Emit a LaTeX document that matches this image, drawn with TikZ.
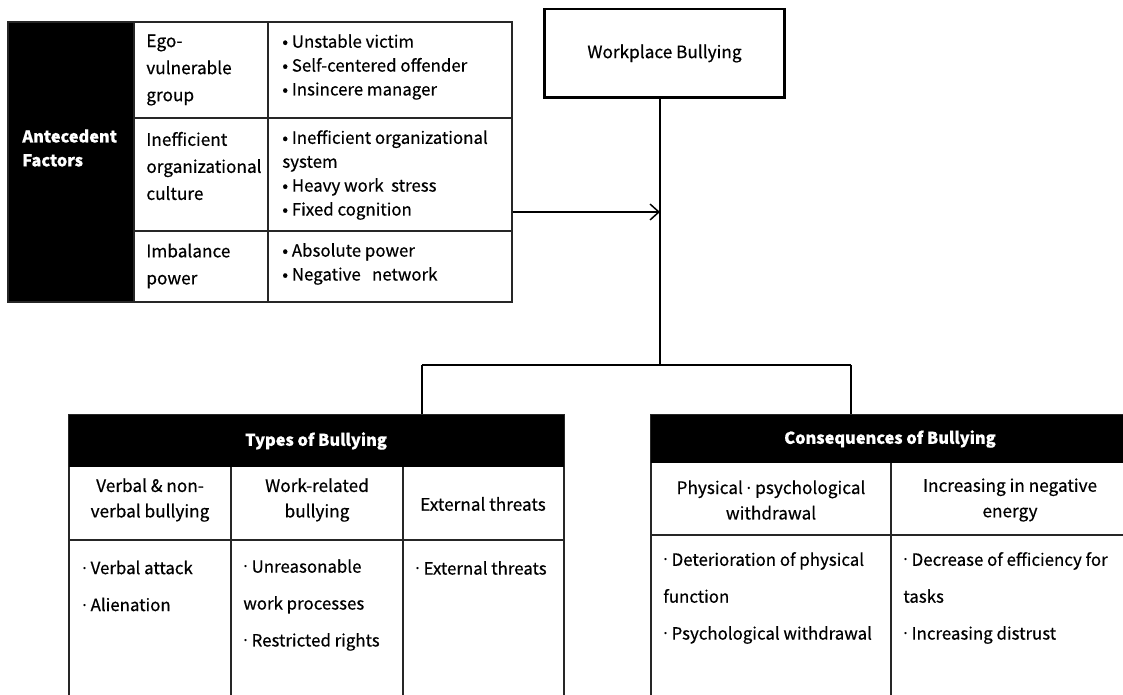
\documentclass[tikz,border=0pt]{standalone}
\usepackage{fontspec}
\setmainfont{Noto Sans CJK KR}[FakeBold=0.5]
\newfontfamily\dotfont{Noto Sans}
\newcommand\middot{{\dotfont ·}}
\usetikzlibrary{arrows.meta}

\tikzset{
  grid line/.style={line width=0.85pt, draw=black!85},
  frame/.style={grid line, inner sep=0pt},
  celltext/.style={anchor=west, inner sep=0pt, align=left,
    font=\fontsize{9.6}{13.6}\selectfont},
  midtext/.style={inner sep=0pt, align=center,
    font=\fontsize{9.8}{14.5}\selectfont},
  headtext/.style={inner sep=0pt, text=white,
    font=\fontsize{9.3}{13.6}\selectfont\bfseries},
  listtext/.style={celltext, font=\fontsize{9.6}{21}\selectfont}
}

\begin{document}
\begin{tikzpicture}[x=0.02cm, y=-0.02cm]
    \useasboundingbox (0,0) rectangle (1123,695);
    \clip (0,0) rectangle (1123,695);

    % Antecedent factors table
    \fill (8,22) rectangle (134,302);
    \node[frame, minimum width=10.08cm, minimum height=5.6cm] (antetab) at (260,162) {};
    \draw[grid line] (134,22) -- (134,302);
    \draw[grid line] (268,22) -- (268,302);
    \draw[grid line] (134,118) -- (512,118);
    \draw[grid line] (134,231) -- (512,231);

    \node[headtext, anchor=west, align=left] (ante) at (22,148) {Antecedent\\Factors};
    \node[celltext, font=\fontsize{9.8}{15.4}\selectfont] (ego) at (146,70) {Ego-\\vulnerable\\group};
    \node[celltext] (egolist) at (282,67) {• Unstable victim\\• Self-centered offender\\• Insincere manager};
    \node[celltext, font=\fontsize{9.8}{15.4}\selectfont] (culture) at (146,166) {Inefficient\\organizational\\culture};
    \node[celltext] (culturelist) at (282,175) {• Inefficient organizational\\system\\• Heavy work\ \ stress\\• Fixed cognition};
    \node[celltext, font=\fontsize{9.8}{15.4}\selectfont] (power) at (146,266) {Imbalance\\power};
    \node[celltext] (powerlist) at (282,264) {• Absolute power\\• Negative\ \ \ network};

    % Workplace bullying
    \node[draw, line width=1.7pt, minimum width=4.82cm, minimum height=1.78cm,
          font=\fontsize{9.8}{13.6}\selectfont] (wb) at (664.5,53.5) {Workplace Bullying};

    % Connectors
    \coordinate (hit) at (660,212);
    \coordinate (join) at (660,365);
    \coordinate (tl) at (422,365);
    \coordinate (tr) at (851,365);
    \draw[line width=0.85pt] (wb.south -| join) -- (join);
    \draw[line width=0.85pt, -{Straight Barb[length=5pt, width=9pt]}] (antetab.east |- hit) -- (hit);
    \draw[line width=0.85pt] (tl) -- (tr);

    % Types of bullying table
    \node[frame, minimum width=9.9cm, minimum height=5.7cm] (types) at (316.5,557.5) {};
    \fill (69,415) rectangle (564,467);
    \draw[grid line] (69,540) -- (564,540);
    \draw[grid line] (231,467) -- (231,700);
    \draw[grid line] (403,467) -- (403,700);
    \draw[line width=0.85pt] (tl) -- (tl |- types.north);

    \node[headtext] (typeshead) at (316,441) {Types of Bullying};
    \node[midtext] (verbal) at (150,500) {Verbal \& non-\\verbal bullying};
    \node[midtext] (workrel) at (317,500) {Work-related\\bullying};
    \node[midtext] (external) at (483,504) {External threats};
    \node[listtext] (verballist) at (82,586) {\middot\ Verbal attack\\\middot\ Alienation};
    \node[listtext] (worklist) at (243,605) {\middot\ Unreasonable\\work processes\\\middot\ Restricted rights};
    \node[listtext] (extlist) at (415,568) {\middot\ External threats};

    % Consequences of bullying table
    \node[frame, minimum width=9.58cm, minimum height=5.7cm] (cons) at (890.5,557.5) {};
    \fill (651,415) rectangle (1130,463);
    \draw[grid line] (651,535) -- (1130,535);
    \draw[grid line] (891,463) -- (891,700);
    \draw[line width=0.85pt] (tr) -- (tr |- cons.north);

    \node[headtext] (conshead) at (890,439) {Consequences of Bullying};
    \node[midtext] (physical) at (771,500) {Physical \middot\ psychological\\withdrawal};
    \node[midtext] (negative) at (1010,500) {Increasing in negative\\energy};
    \node[listtext] (physlist) at (663,598) {\middot\ Deterioration of physical\\function\\\middot\ Psychological withdrawal};
    \node[listtext] (neglist) at (903,598) {\middot\ Decrease of efficiency for\\tasks\\\middot\ Increasing distrust};
\end{tikzpicture}
\end{document}
